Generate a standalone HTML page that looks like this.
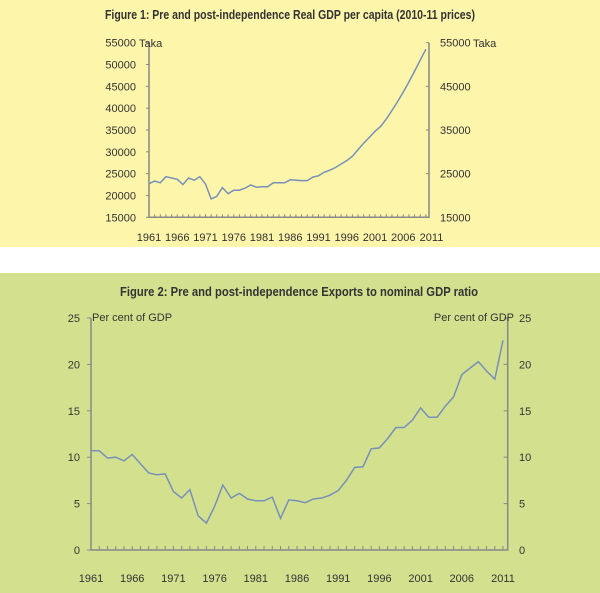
<!DOCTYPE html>
<html><head><meta charset="utf-8"><style>
html,body{margin:0;padding:0;background:#fff}
svg{display:block}
text{font-family:"Liberation Sans",sans-serif;fill:#333}
.t{font-weight:bold;font-size:13px;fill:#333}
</style></head><body>
<svg id="s" width="600" height="593" viewBox="0 0 600 593" xmlns="http://www.w3.org/2000/svg">
<rect x="0" y="0" width="600" height="247" fill="#FDF5AA"/>
<rect x="0" y="273" width="600" height="320" fill="#D3E18F"/>
<text class="t" x="290" y="19" text-anchor="middle" textLength="370" lengthAdjust="spacingAndGlyphs">Figure 1: Pre and post-independence Real GDP per capita (2010-11 prices)</text>
<text class="t" x="299" y="296" text-anchor="middle" textLength="358" lengthAdjust="spacingAndGlyphs">Figure 2: Pre and post-independence Exports to nominal GDP ratio</text>
<g id="g1"></g><g id="g2"></g>
</svg>
<script>
var NS="http://www.w3.org/2000/svg";
function el(p,n,a,t){var e=document.createElementNS(NS,n);for(var k in a)e.setAttribute(k,a[k]);if(t!=null)e.textContent=t;p.appendChild(e);return e;}
var g1=document.getElementById('g1'),g2=document.getElementById('g2');
var ax="#888";
var L=149,R=429,T=42.7,B=217.3,px=5.65;
function y1(v){return B-(v-15)*4.365;}
el(g1,'polyline',{points:L+','+T+' '+L+','+B+' '+R+','+B+' '+R+','+T,fill:'none',stroke:ax,'stroke-width':1.5});
for(var v=15;v<=55;v+=5){var y=y1(v);el(g1,'line',{x1:L-3,x2:L,y1:y,y2:y,stroke:ax});
 el(g1,'text',{x:136,y:y+4,'font-size':'11','text-anchor':'end'},(v*1000)+'');}
for(var v=15;v<=55;v+=10){var y=y1(v);el(g1,'line',{x1:R,x2:R-3,y1:y,y2:y,stroke:ax});
 el(g1,'text',{x:440,y:y+4,'font-size':'11'},(v*1000)+'');}
el(g1,'text',{x:139,y:47,'font-size':'11'},'Taka');el(g1,'text',{x:473,y:47,'font-size':'11'},'Taka');
for(var i=0;i<50;i++){var x=L+i*px;el(g1,'line',{x1:x,x2:x,y1:B,y2:B-3,stroke:ax});}
for(var i=0;i<=50;i+=5){el(g1,'text',{x:L+i*px,y:241,'font-size':'11','text-anchor':'middle'},(1961+i)+'');}
var d1=[22.7,23.3,22.9,24.3,24.0,23.7,22.5,24.0,23.5,24.3,22.6,19.2,19.8,21.8,20.4,21.2,21.2,21.7,22.4,21.9,22.0,22.0,22.9,22.9,22.9,23.6,23.5,23.4,23.4,24.2,24.5,25.3,25.8,26.4,27.2,28.0,29.0,30.5,32.0,33.3,34.7,35.8,37.5,39.5,41.5,43.7,46.0,48.5,51.0,53.5];
el(g1,'polyline',{points:d1.map(function(v,i){return (L+i*px).toFixed(1)+','+y1(v).toFixed(1)}).join(' '),fill:'none',stroke:'#7890B8','stroke-width':1.5});
var L2=91,R2=507.7,T2=318,B2=550,px2=8.24;
function y2(v){return B2-v*9.28;}
el(g2,'polyline',{points:L2+','+T2+' '+L2+','+B2+' '+R2+','+B2+' '+R2+','+T2,fill:'none',stroke:ax,'stroke-width':1.5});
for(var v=0;v<=25;v+=5){var y=y2(v);el(g2,'line',{x1:L2-4,x2:L2,y1:y,y2:y,stroke:ax});el(g2,'line',{x1:R2,x2:R2-4,y1:y,y2:y,stroke:ax});
 el(g2,'text',{x:80,y:y+4,'font-size':'11','text-anchor':'end'},v+'');el(g2,'text',{x:519,y:y+4,'font-size':'11'},v+'');}
el(g2,'text',{x:92,y:321,'font-size':'11'},'Per cent of GDP');el(g2,'text',{x:514,y:321,'font-size':'11','text-anchor':'end'},'Per cent of GDP');
for(var i=0;i<=50;i++){var x=L2+i*px2;el(g2,'line',{x1:x,x2:x,y1:B2,y2:B2-4,stroke:ax});}
for(var i=0;i<=50;i+=5){el(g2,'text',{x:L2+i*px2,y:582,'font-size':'11','text-anchor':'middle'},(1961+i)+'');}
var d2=[10.7,10.7,9.9,10.0,9.6,10.3,9.3,8.3,8.1,8.2,6.3,5.6,6.5,3.7,2.9,4.7,7.0,5.6,6.1,5.5,5.3,5.3,5.7,3.4,5.4,5.3,5.1,5.5,5.6,5.9,6.4,7.5,8.9,8.95,10.9,11.0,12.0,13.2,13.2,14.0,15.3,14.3,14.3,15.5,16.5,18.9,19.6,20.3,19.3,18.4,22.6];
el(g2,'polyline',{points:d2.map(function(v,i){return (L2+i*px2).toFixed(1)+','+y2(v).toFixed(1)}).join(' '),fill:'none',stroke:'#7890B8','stroke-width':1.5});
</script>
</body></html>
